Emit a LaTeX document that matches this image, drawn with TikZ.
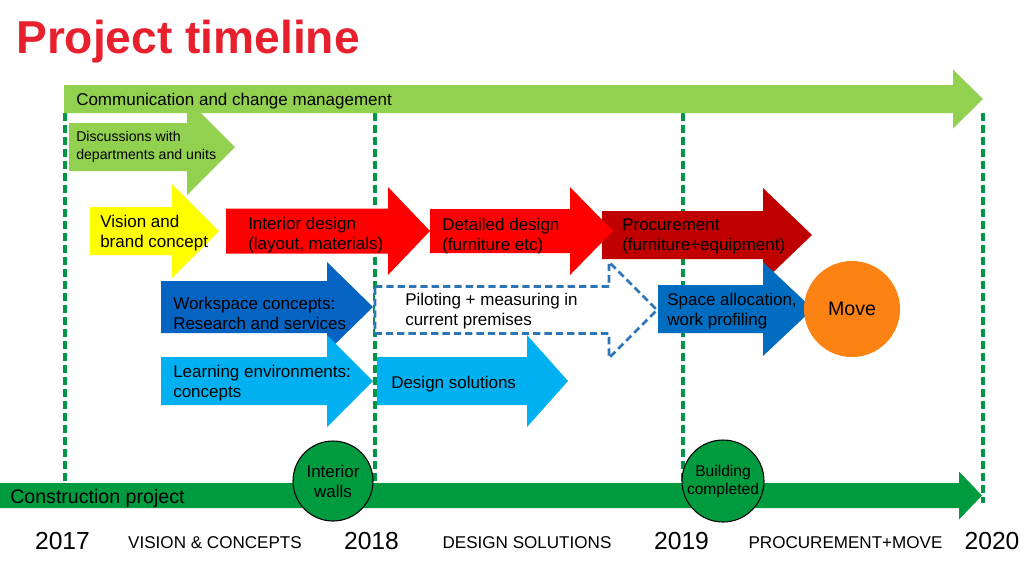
\documentclass[tikz,border=0pt]{standalone}
\usepackage{fontspec}
\setmainfont{Liberation Sans}
\definecolor{titlered}{RGB}{232,32,45}
\definecolor{lgreen}{RGB}{146,208,80}
\definecolor{cgreen}{RGB}{0,155,62}
\definecolor{dgreen}{RGB}{0,150,70}
\definecolor{myyellow}{RGB}{255,255,0}
\definecolor{myred}{RGB}{255,0,0}
\definecolor{darkred}{RGB}{192,0,0}
\definecolor{dblue}{RGB}{5,99,193}
\definecolor{sblue}{RGB}{0,108,192}
\definecolor{lblue}{RGB}{0,176,240}
\definecolor{dashblue}{RGB}{46,117,182}
\definecolor{myorange}{RGB}{252,130,20}
% block arrow: [options]{x0}{x head base}{x tip}{y centre}{half body}{half head}
\newcommand\blockarrow[7][]{%
  \path[#1] ({#2},{#5-#6}) -- ({#3},{#5-#6}) -- ({#3},{#5-#7}) -- ({#4},{#5})
    -- ({#3},{#5+#7}) -- ({#3},{#5+#6}) -- ({#2},{#5+#6}) -- cycle;}
\begin{document}
\begin{tikzpicture}[x=0.75pt,y=-0.75pt,
  lbl/.style={font=\fontsize{12.75}{15}\selectfont, align=left, anchor=west, inner sep=0pt},
  smalllbl/.style={font=\fontsize{10.6}{13.5}\selectfont, align=left, anchor=west, inner sep=0pt},
  yr/.style={font=\fontsize{18.5}{20}\selectfont, anchor=base, inner sep=0pt},
  phase/.style={font=\fontsize{12.8}{15}\selectfont, anchor=base, inner sep=0pt},
  vline/.style={dgreen, line width=2.4pt, dash pattern=on 6pt off 3pt},
  mile/.style={circle, draw=black, line width=0.8pt, fill=cgreen, inner sep=0pt, align=center},
  dashbox/.style={draw=dashblue, line width=2pt, dash pattern=on 5.5pt off 3pt, fill=white}]
\useasboundingbox (0,0) rectangle (1024,562);
\fill[white] (0,0) rectangle (1024,562);

% title
\node[anchor=base west, inner sep=0pt, text=titlered, font=\fontsize{34.6}{40}\selectfont\bfseries] (title) at (16,53) {Project timeline};

% vertical dashed year lines
\coordinate (t17) at (65,113);  \coordinate (b17) at (65,503);
\coordinate (t18) at (375,113); \coordinate (b18) at (375,503);
\coordinate (t19) at (683,113); \coordinate (b19) at (683,503);
\coordinate (t20) at (983,113); \coordinate (b20) at (983,503);
\draw[vline] (t17) -- (b17);
\draw[vline] (t18) -- (b18);
\draw[vline] (t19) -- (b19);
\draw[vline] (t20) -- (b20);

% discussions (behind communication)
\blockarrow[fill=lgreen]{69}{187}{235}{147}{24}{48}
% communication
\blockarrow[fill=lgreen]{64}{953}{983}{99}{14}{29.5}
\node[lbl] (comm) at (76,101) {Communication and change management};
\node[smalllbl] (disc) at (76,147) {Discussions with\\departments and units};

% vision
\blockarrow[fill=myyellow]{90}{172}{219}{231}{24}{47}
\node[lbl] (vision) at (100,233.5) {Vision and\\brand concept};
% interior design
\blockarrow[fill=myred]{226}{388}{430}{231}{22.5}{44}
\node[lbl] (interior) at (248,235) {Interior design\\(layout, materials)};
% procurement
\blockarrow[fill=darkred]{602}{763}{812}{235}{24}{47}
% detailed design
\blockarrow[fill=myred]{430}{570}{613}{231}{22}{44}
\node[lbl] (detailed) at (442,236) {Detailed design\\(furniture etc)};
\node[lbl] (procure) at (622,236.5) {Procurement\\(furniture+equipment)};

% piloting (dashed)
\blockarrow[dashbox]{375}{609}{657}{310}{23.5}{48}
\node[lbl] (pilot) at (405,311.5) {Piloting + measuring in\\current premises};

% workspace
\blockarrow[fill=dblue]{161}{327}{373}{307}{26}{45}
\node[lbl] (workspace) at (173,313) {Workspace concepts:\\Research and services};
% learning
\blockarrow[fill=lblue]{161}{327}{373}{381}{24}{46}
\node[lbl] (learning) at (173,383) {Learning environments:\\concepts};
% design solutions
\blockarrow[fill=lblue]{377}{527}{568}{381}{24}{46}
\node[lbl] (designsol) at (391,384) {Design solutions};

% space allocation
\blockarrow[fill=sblue]{658}{763}{813}{309}{24}{47}
\node[lbl] (space) at (667,311.5) {Space allocation,\\work profiling};
% move
\node[circle, fill=myorange, minimum size=72pt, inner sep=0pt, font=\fontsize{14.7}{17}\selectfont] (move) at (852,309) {Move};

% construction project
\blockarrow[fill=cgreen]{0}{959}{982}{495.5}{12.5}{24}
\node[anchor=west, inner sep=0pt, font=\fontsize{14.7}{17}\selectfont] (constr) at (10,498) {Construction project};

\node[mile, minimum size=60pt, font=\fontsize{12.75}{15}\selectfont] (walls) at (333,481) {Interior\\walls};
\node[mile, minimum size=61.5pt, font=\fontsize{11.7}{13.5}\selectfont] (building) at (723,481) {Building\\completed};

% bottom labels
\node[yr] (y17) at (62.5,549) {2017};
\node[phase] (p1) at (215,548) {VISION \& CONCEPTS};
\node[yr] (y18) at (371.5,549) {2018};
\node[phase] (p2) at (527,548) {DESIGN SOLUTIONS};
\node[yr] (y19) at (681.5,549) {2019};
\node[phase] (p3) at (845.5,548) {PROCUREMENT+MOVE};
\node[yr] (y20) at (992,549) {2020};
\end{tikzpicture}
\end{document}
